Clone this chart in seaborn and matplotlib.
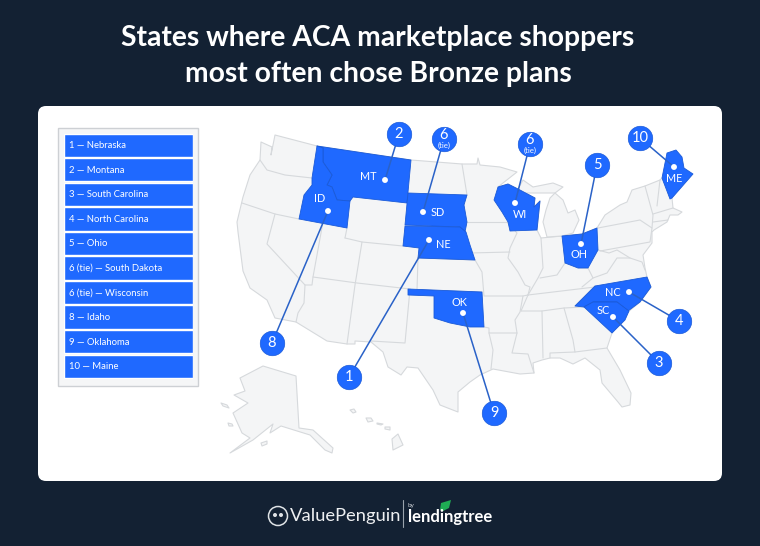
import matplotlib
matplotlib.use("Agg")
import matplotlib.pyplot as plt
from matplotlib.patches import FancyBboxPatch, Polygon, Circle
import pandas as pd
import seaborn as sns

NAVY = "#132133"
BLUE = "#1f69ff"
LAND = "#f4f5f6"
EDGE = "#d6d9dc"

title_lines = ["States where ACA marketplace shoppers", "most often chose Bronze plans"]
ranks = ["1", "2", "3", "4", "5", "6", "6", "8", "9", "10"]
state_names = ["Nebraska", "Montana", "South Carolina", "North Carolina", "Ohio",
               "South Dakota", "Wisconsin", "Idaho", "Oklahoma", "Maine"]
state_codes = ["NE", "MT", "SC", "NC", "OH", "SD", "WI", "ID", "OK", "ME"]
list_labels = ["1 — Nebraska", "2 — Montana", "3 — South Carolina", "4 — North Carolina", "5 — Ohio",
               "6 (tie) — South Dakota", "6 (tie) — Wisconsin", "8 — Idaho", "9 — Oklahoma", "10 — Maine"]

# picture positions
bubble_x = [349, 399, 659, 679, 597, 444, 530, 272, 494, 640]
bubble_y = [377, 134, 363, 321, 165, 139, 144, 343, 413, 138]
dot_x = [429, 385, 613, 629, 581, 423, 515, 328, 463, 674]
dot_y = [240, 180, 317, 292, 244, 212, 203, 211, 313, 167]
code_x = [443, 368, 603, 613, 579, 438, 520, 320, 459, 674]
code_y = [245, 177, 311, 293, 255, 213, 214, 199, 303, 178]

# grey land
lower48 = [(261, 142), (272, 147), (271, 155), (275, 135), (317, 146), (411, 160), (462, 164), (477, 164),
           (478, 158), (480, 165), (500, 167), (517, 172), (503, 183), (498, 187), (508, 184), (520, 190),
           (535, 198), (534, 207), (540, 201), (537, 230), (541, 238), (562, 236), (582, 234), (597, 228),
           (605, 215), (620, 205), (627, 202), (632, 190), (645, 186), (660, 180), (662, 178), (672, 198),
           (673, 208), (682, 212), (678, 215), (670, 215), (667, 222), (654, 230), (652, 232), (652, 243),
           (643, 255), (645, 268), (647, 277), (651, 287), (640, 302), (628, 312), (612, 333), (607, 348),
           (620, 370), (631, 393), (630, 405), (622, 407), (618, 402), (602, 383), (600, 370), (585, 358),
           (573, 364), (560, 358), (550, 358), (542, 360), (533, 363), (534, 373), (520, 374), (493, 369),
           (480, 375), (470, 382), (458, 392), (458, 412), (440, 405), (433, 390), (418, 368), (407, 367),
           (401, 375), (388, 367), (383, 352), (371, 342), (355, 341), (355, 344), (347, 344), (327, 341),
           (296, 322), (275, 318), (267, 300), (250, 288), (243, 271), (238, 232), (237, 222), (243, 197),
           (250, 175), (260, 160)]
upper_mi = [(523, 180), (533, 187), (553, 183), (563, 187), (555, 193), (540, 193), (523, 193), (518, 189)]
lower_mi = [(547, 237), (543, 222), (546, 210), (550, 198), (555, 193), (563, 200), (568, 213), (575, 210),
            (579, 220), (573, 233), (562, 236)]
alaska = [(240, 378), (263, 366), (296, 376), (299, 428), (313, 430), (333, 448), (332, 453), (325, 450),
          (310, 435), (281, 426), (270, 433), (273, 424), (253, 440), (230, 453), (250, 438), (242, 433),
          (233, 413), (248, 403), (234, 395), (245, 391)]
islands = [[(221, 403), (227, 405), (229, 408), (223, 406)],
           [(228, 423), (232, 424), (233, 426), (229, 426)],
           [(261, 443), (267, 441), (267, 444), (262, 446)],
           [(350, 410), (354, 409), (356, 412), (353, 413)],
           [(366, 418), (371, 418), (373, 421), (368, 422)],
           [(377, 423), (383, 424), (381, 425), (377, 424)],
           [(385, 427), (390, 427), (390, 430), (385, 429)],
           [(392, 439), (398, 434), (403, 445), (393, 450)]]

# grey state borders
border_lines = [
    [(260, 160), (267, 170), (285, 175), (312, 178)],
    [(242, 203), (275, 214), (299, 219)],
    [(275, 214), (267, 244), (305, 285), (312, 285), (313, 277), (323, 222)],
    [(305, 285), (304, 303), (298, 313), (296, 322)],
    [(313, 277), (357, 283), (410, 289)],
    [(345, 238), (362, 242), (355, 285), (347, 344)],
    [(347, 228), (345, 238)],
    [(403, 246), (362, 242)],
    [(418, 258), (417, 290)],
    [(410, 289), (405, 343), (371, 341)],
    [(462, 164), (467, 195)],
    [(467, 222), (507, 222)],
    [(470, 253), (510, 252)],
    [(507, 222), (517, 233), (510, 248), (508, 258), (518, 272), (525, 285), (530, 287), (528, 295)],
    [(475, 260), (482, 272), (484, 296), (523, 296), (528, 295)],
    [(418, 258), (475, 260)],
    [(419, 290), (482, 292)],
    [(541, 238), (543, 268), (538, 278), (528, 295)],
    [(565, 263), (557, 275), (540, 278)],
    [(578, 268), (588, 268), (593, 278), (582, 287)],
    [(528, 295), (595, 287), (647, 278)],
    [(528, 295), (521, 311)],
    [(521, 311), (542, 311), (564, 308), (584, 307)],
    [(575, 306), (595, 286)],
    [(593, 278), (607, 273), (617, 258), (630, 258), (642, 262), (645, 270)],
    [(598, 228), (640, 220), (652, 228), (650, 242), (600, 251)],
    [(598, 250), (609, 253), (617, 250), (630, 258)],
    [(645, 186), (653, 215), (652, 228)],
    [(653, 214), (673, 208)],
    [(653, 222), (668, 220)],
    [(660, 180), (657, 206)],
    [(523, 296), (520, 312), (515, 320), (517, 333), (489, 333), (489, 328), (484, 327)],
    [(489, 333), (493, 350), (491, 369)],
    [(517, 333), (512, 353), (528, 354), (534, 373)],
    [(542, 311), (543, 358)],
    [(564, 308), (573, 340), (575, 352), (550, 353), (550, 358)],
    [(575, 352), (607, 348)],
]

# blue states
shape_mt = [(317, 146), (411, 160), (407, 203), (353, 197), (350, 201), (337, 200), (332, 187), (327, 185),
            (332, 175), (323, 162), (323, 148)]
shape_id = [(317, 146), (323, 148), (323, 162), (332, 175), (327, 185), (332, 187), (337, 200), (350, 201),
            (347, 228), (299, 219), (304, 195), (312, 185), (312, 178)]
shape_sd = [(408, 193), (467, 195), (464, 205), (467, 222), (465, 232), (460, 227), (405, 225)]
shape_ne = [(405, 226), (460, 227), (466, 232), (470, 245), (475, 260), (418, 258), (419, 248), (403, 246)]
shape_wi = [(498, 187), (508, 184), (520, 190), (535, 198), (534, 207), (540, 201), (537, 230), (510, 231),
            (508, 222), (502, 212), (494, 200)]
shape_oh = [(562, 236), (582, 234), (597, 228), (598, 250), (588, 268), (578, 268), (565, 263)]
shape_me = [(662, 178), (667, 153), (676, 150), (682, 157), (684, 168), (693, 174), (672, 198), (670, 199)]
shape_nc = [(575, 306), (595, 286), (647, 277), (651, 287), (640, 302), (628, 311), (617, 302), (593, 302),
            (584, 307)]
shape_sc = [(584, 307), (593, 302), (617, 302), (629, 311), (625, 320), (612, 333)]
shape_ok = [(408, 289), (482, 292), (484, 327), (470, 327), (450, 323), (434, 318), (434, 296), (408, 295)]
blue_shapes = [shape_mt, shape_id, shape_sd, shape_ne, shape_wi, shape_oh, shape_me, shape_nc, shape_sc, shape_ok]

sns.set_theme(style="white")
plt.rcParams["font.family"] = ["Lato", "DejaVu Sans"]

fig = plt.figure(figsize=(7.6, 5.46), dpi=100, facecolor=NAVY)
ax = fig.add_axes([0, 0, 1, 1])
ax.set_xlim(0, 760)
ax.set_ylim(546, 0)
ax.axis("off")

ax.add_patch(FancyBboxPatch((38, 106), 684, 375, boxstyle="round,pad=0,rounding_size=8",
                            fc="white", ec="none", zorder=0))

for y, line in zip([38, 74], title_lines):
    ax.text(378, y, line, color="white", fontsize=20.3, fontweight="bold", ha="center", va="center")

# map
for shape in [lower48, upper_mi, lower_mi, alaska] + islands:
    ax.add_patch(Polygon(shape, closed=True, fc=LAND, ec=EDGE, lw=0.8, zorder=1, joinstyle="round"))
for line in border_lines:
    ax.plot([p[0] for p in line], [p[1] for p in line], color=EDGE, lw=0.8, zorder=2)
for shape in blue_shapes:
    ax.add_patch(Polygon(shape, closed=True, fc=BLUE, ec="#1a5ad8", lw=0.6, zorder=3, joinstyle="round"))

marks = pd.DataFrame({"bx": bubble_x, "by": bubble_y, "dx": dot_x, "dy": dot_y,
                      "cx": code_x, "cy": code_y, "rank": ranks, "code": state_codes})

for row in marks.itertuples():
    ax.plot([row.bx, row.dx], [row.by, row.dy], color="#2a62c8", lw=1.1, zorder=4)
    ax.text(row.cx, row.cy, row.code, color="white", fontsize=7.8, ha="center", va="center", zorder=6)

sns.scatterplot(data=marks, x="dx", y="dy", ax=ax, s=18, color="white", edgecolor="none", zorder=5, legend=False)
sns.scatterplot(data=marks, x="bx", y="by", ax=ax, s=310, color=BLUE, edgecolor="#1a5ad8", linewidth=0.5,
                zorder=5, legend=False)
ax.set_xlabel("")
ax.set_ylabel("")

for row in marks.itertuples():
    if row.rank == "6":
        ax.text(row.bx, row.by - 4, row.rank, color="white", fontsize=10.5, ha="center", va="center", zorder=6)
        ax.text(row.bx, row.by + 6, "(tie)", color="white", fontsize=5.6, ha="center", va="center", zorder=6)
    else:
        ax.text(row.bx, row.by, row.rank, color="white", fontsize=10.5, ha="center", va="center", zorder=6)

# ranking list
ax.add_patch(plt.Rectangle((58, 127.5), 140, 258, fc="#f5f6f7", ec="#cdd0d4", lw=1, zorder=1))
list_ax = fig.add_axes([64 / 760, 1 - 378.5 / 546, 129 / 760, 245.5 / 546])
list_df = pd.DataFrame({"label": list_labels, "share": [1] * len(list_labels), "state": state_names})
sns.barplot(data=list_df, x="share", y="label", ax=list_ax, color=BLUE, width=0.95, saturation=1)
list_ax.set_xlim(0, 1)
list_ax.axis("off")
for i, label in enumerate(list_labels):
    list_ax.text(0.04, i + 0.02, label, color="white", fontsize=6.8, ha="left", va="center")

# footer logos
ax.add_patch(Circle((278, 516), 9.5, fc=NAVY, ec="#dfe3e6", lw=1.1))
ax.add_patch(Circle((275, 515), 2, fc="#dfe3e6", ec="none"))
ax.add_patch(Circle((281, 515), 2, fc="#dfe3e6", ec="none"))
ax.text(290, 516, "ValuePenguin", color="#eef0f2", fontsize=13.2, ha="left", va="center")
ax.plot([403, 403], [500, 527], color="#9aa3ad", lw=0.8)
ax.text(408, 506, "by", color="#cfd4d9", fontsize=4.5, ha="left", va="center")
ax.text(408, 517, "lendingtree", color="white", fontsize=12, fontweight="bold", ha="left", va="center")
leaf = [(440, 510), (441, 503), (451, 500), (449, 508), (443, 511)]
ax.add_patch(Polygon(leaf, closed=True, fc="#1fae54", ec="none"))

fig.savefig("out.png", dpi=100, facecolor=NAVY)
